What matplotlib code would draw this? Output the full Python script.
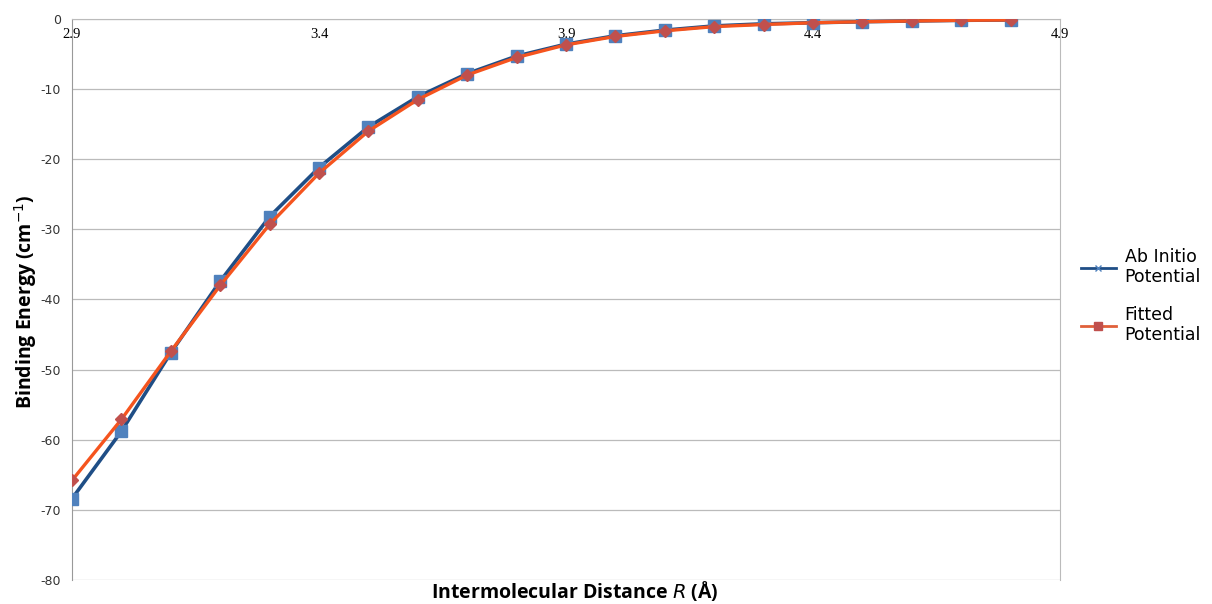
import matplotlib
matplotlib.use('Agg')
import matplotlib.pyplot as plt
from matplotlib.lines import Line2D

# data
R = [2.9, 3.0, 3.1, 3.2, 3.3, 3.4, 3.5, 3.6, 3.7, 3.8,
     3.9, 4.0, 4.1, 4.2, 4.3, 4.4, 4.5, 4.6, 4.7, 4.8]
ab_initio = [-68.4, -58.8, -47.6, -37.4, -28.2, -21.2, -15.4, -11.1, -7.8, -5.3,
             -3.6, -2.4, -1.6, -1.0, -0.7, -0.55, -0.4, -0.3, -0.2, -0.15]
fitted = [-65.8, -57.1, -47.4, -38.0, -29.3, -22.0, -16.0, -11.5, -8.0, -5.5,
          -3.7, -2.5, -1.7, -1.1, -0.8, -0.55, -0.4, -0.3, -0.2, -0.15]
x_ticks = [2.9, 3.4, 3.9, 4.4, 4.9]
y_ticks = [0, -10, -20, -30, -40, -50, -60, -70, -80]

navy = '#1F4E86'
steel = '#4F81BD'
orange = '#F5541E'
brick = '#C0504D'

fig = plt.figure(figsize=(12.12, 6.04), dpi=100)
ax = fig.add_axes([0.0594, 0.0397, 0.8152, 0.929])

ax.plot(R, ab_initio, color=navy, lw=2.6, marker='s', ms=9,
        mfc=steel, mec=steel, zorder=3)
ax.plot(R, fitted, color=orange, lw=2.4, marker='D', ms=6,
        mfc=brick, mec=brick, zorder=4)

ax.set_xlim(2.9, 4.9)
ax.set_ylim(-80, 0)
ax.set_xticks(x_ticks)
ax.set_yticks(y_ticks)
ax.set_xticklabels([str(t) for t in x_ticks], family='Liberation Serif', fontsize=10.5)
ax.set_yticklabels([str(t) for t in y_ticks], family='DejaVu Sans', fontsize=9, color='#333333')

ax.xaxis.tick_top()
ax.tick_params(axis='x', length=0, pad=-16)
ax.tick_params(axis='y', length=0, pad=8)

ax.grid(axis='y', color='#BBBBBB', lw=0.9)
ax.set_axisbelow(True)
for side in ['left', 'right', 'top', 'bottom']:
    ax.spines[side].set_color('#BBBBBB')
ax.spines['bottom'].set_visible(False)
ax.spines['left'].set_color('#999999')

fig.text(0.474, 0.002, 'Intermolecular Distance $\\it{R}$ (Å)', ha='center', va='bottom',
         fontsize=14, fontweight='bold', family='Open Sans')
fig.text(0.010, 0.5, 'Binding Energy (cm$^{-1}$)', ha='left', va='center', rotation=90,
         fontsize=14, fontweight='bold', family='Open Sans')

handles = [Line2D([], [], color=navy, lw=2, marker='x', ms=4, mec=steel),
           Line2D([], [], color='#E0603A', lw=2, marker='s', ms=6, mfc=brick, mec=brick)]
fig.legend(handles, ['Ab Initio\nPotential', 'Fitted\nPotential'],
           loc='center left', bbox_to_anchor=(0.882, 0.51), frameon=False,
           fontsize=12.5, handlelength=2.0, labelspacing=1.1, handletextpad=0.5,
           borderpad=0.2)

fig.savefig('out.png', dpi=100)
